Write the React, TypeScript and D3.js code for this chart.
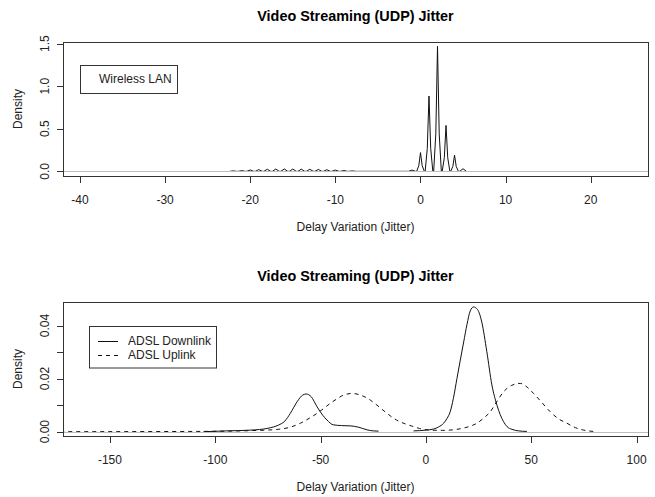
import React, { useEffect, useRef } from 'react';
import * as d3 from 'd3';

const chartTitle = 'Video Streaming (UDP) Jitter';
const xLabel = 'Delay Variation (Jitter)';
const yLabel = 'Density';

// top panel: wireless LAN jitter density, (delay, density)
const wlanDensity: [number, number][] = [
  [-22.4, 0], [-22, 0.005], [-21.6, 0],
  [-21.4, 0], [-21, 0.008], [-20.6, 0],
  [-20.4, 0], [-20, 0.016], [-19.6, 0],
  [-19.4, 0], [-19, 0.02], [-18.6, 0],
  [-18.4, 0], [-18, 0.024], [-17.6, 0],
  [-17.4, 0], [-17, 0.027], [-16.6, 0],
  [-16.4, 0], [-16, 0.028], [-15.6, 0],
  [-15.4, 0], [-15, 0.027], [-14.6, 0],
  [-14.4, 0], [-14, 0.025], [-13.6, 0],
  [-13.4, 0], [-13, 0.024], [-12.6, 0],
  [-12.4, 0], [-12, 0.022], [-11.6, 0],
  [-11.4, 0], [-11, 0.019], [-10.6, 0],
  [-10.4, 0], [-10, 0.015], [-9.6, 0],
  [-9.4, 0], [-9, 0.009], [-8.6, 0],
  [-8.4, 0], [-8, 0.005], [-7.6, 0],
  [-1.4, 0], [-1, 0.015], [-0.6, 0],
  [-0.45, 0], [-0.2, 0.066], [0, 0.22], [0.2, 0.066], [0.45, 0],
  [0.55, 0], [0.8, 0.27], [1, 0.885], [1.2, 0.27], [1.45, 0],
  [1.55, 0], [1.8, 0.44], [2, 1.47], [2.2, 0.44], [2.45, 0],
  [2.55, 0], [2.8, 0.16], [3, 0.54], [3.2, 0.16], [3.45, 0],
  [3.55, 0], [3.8, 0.057], [4, 0.19], [4.2, 0.057], [4.45, 0],
  [4.6, 0], [5, 0.03], [5.4, 0],
];

// bottom panel: ADSL downlink (two pieces) and uplink densities
const downlinkLow: [number, number][] = [
  [-105.6, 0], [-95, 0.0003], [-83, 0.0006], [-75, 0.0013], [-70, 0.0025],
  [-67, 0.004], [-64.4, 0.0069], [-61, 0.0115], [-58.5, 0.0138], [-56.8, 0.0142],
  [-54.5, 0.0132], [-51.7, 0.0094], [-49, 0.0062], [-47, 0.0044], [-44, 0.0026],
  [-40, 0.0023], [-36, 0.0022], [-32, 0.0017], [-28, 0.0007], [-25, 0.0003],
  [-22.5, 0.0002],
];
const downlinkHigh: [number, number][] = [
  [-5.9, 0.0003], [0, 0.0006], [3.6, 0.001], [6, 0.0018], [8.4, 0.0032],
  [10, 0.005], [11.5, 0.0075], [13, 0.0125], [14.7, 0.02], [16.3, 0.027],
  [17.9, 0.0338], [19.5, 0.0405], [21, 0.0455], [22.6, 0.047], [24.5, 0.046],
  [26.5, 0.0413], [28.9, 0.0301], [31.3, 0.0176], [33.7, 0.01], [36.8, 0.0038],
  [38.5, 0.0019], [40.8, 0.0009], [44, 0.0003], [47.9, 0.0001],
];
const uplink: [number, number][] = [
  [-185, 0], [-110, 0.0001], [-95, 0.0002], [-83.4, 0.0004], [-70, 0.0009],
  [-64, 0.0018], [-59.6, 0.0032], [-55.5, 0.005], [-51.7, 0.0069], [-48.5, 0.0088],
  [-45.4, 0.0107], [-42, 0.0125], [-39.1, 0.0138], [-35.1, 0.0144], [-31, 0.0138],
  [-26.4, 0.0119], [-22, 0.0092], [-18, 0.0066], [-14, 0.0044], [-10, 0.003],
  [-7, 0.0022], [-3, 0.0012], [2, 0.0006], [8, 0.0005], [14.7, 0.0009],
  [19, 0.0016], [24.2, 0.0032], [27.5, 0.0052], [30.5, 0.0075], [33.5, 0.0112],
  [36.8, 0.015], [40.5, 0.0174], [44.8, 0.0182], [48, 0.0168], [51.1, 0.0144],
  [55, 0.011], [59, 0.0075], [63, 0.0048], [66.9, 0.0032], [71, 0.0015],
  [74.8, 0.0006], [79.5, 0.0001],
];

const wlanXTicks = [-40, -30, -20, -10, 0, 10, 20];
const wlanYTicks = [0, 0.5, 1, 1.5];
const wlanYTickLabels = ['0.0', '0.5', '1.0', '1.5'];
const adslXTicks = [-150, -100, -50, 0, 50, 100];
const adslYTicks = [0, 0.01, 0.02, 0.03, 0.04];
const adslYTickLabels = ['0.00', '', '0.02', '', '0.04'];

const wlanLegend = ['Wireless LAN'];
const adslLegend = ['ADSL Downlink', 'ADSL Uplink'];

const FONT = '"Liberation Sans", Arial, Helvetica, sans-serif';
const PL = 63;
const PR = 648;

const panels = [
  {
    top: 42, bottom: 176,
    xDomain: [-42.0, 26.73], yDomain: [-0.055, 1.52],
    xTicks: wlanXTicks, yTicks: wlanYTicks, yTickLabels: wlanYTickLabels,
    smooth: false,
    series: [{ points: wlanDensity, dash: null }],
    legend: {
      at: [-40, 1.25], width: 97, height: 28, textOffset: 19, rowY: [14],
      items: wlanLegend.map(t => ({ label: t, dash: undefined as string | null | undefined })),
    },
  },
  {
    top: 302, bottom: 436,
    xDomain: [-172.3, 105.4], yDomain: [-0.00162, 0.04887],
    xTicks: adslXTicks, yTicks: adslYTicks, yTickLabels: adslYTickLabels,
    smooth: true,
    series: [
      { points: downlinkLow, dash: null },
      { points: downlinkHigh, dash: null },
      { points: uplink, dash: '4,4' },
    ],
    legend: {
      at: [-160, 0.04], width: 127, height: 41.5, textOffset: 39, rowY: [15, 29],
      items: [
        { label: adslLegend[0], dash: null },
        { label: adslLegend[1], dash: '4,4' },
      ],
    },
  },
];

const App = () => {
  const chartRef = useRef<SVGSVGElement>(null);

  useEffect(() => {
    const svg = d3.select(chartRef.current);
    svg.selectAll('*').remove();
    svg.append('rect').attr('width', 655).attr('height', 497).attr('fill', '#fff');

    panels.forEach((p, i) => {
      const x = d3.scaleLinear().domain(p.xDomain).range([PL, PR]);
      const y = d3.scaleLinear().domain(p.yDomain).range([p.bottom, p.top]);
      const midX = (PL + PR) / 2;

      const clipId = `plotclip${i}`;
      svg.append('clipPath').attr('id', clipId)
        .append('rect')
        .attr('x', PL).attr('y', p.top)
        .attr('width', PR - PL).attr('height', p.bottom - p.top);

      const plot = svg.append('g').attr('clip-path', `url(#${clipId})`);
      const line = d3.line<[number, number]>()
        .x(d => x(d[0]))
        .y(d => y(d[1]))
        .curve(p.smooth ? d3.curveMonotoneX : d3.curveLinear);

      p.series.forEach(s => {
        plot.append('path')
          .attr('d', line(s.points))
          .attr('fill', 'none')
          .attr('stroke', '#111')
          .attr('stroke-width', 1)
          .attr('stroke-dasharray', s.dash);
      });

      // grey zero line drawn on top of the curves
      const y0 = Math.round(y(0)) + 0.5;
      plot.append('line')
        .attr('x1', PL).attr('x2', PR).attr('y1', y0).attr('y2', y0)
        .attr('stroke', '#bebebe').attr('stroke-width', 1);

      // box
      svg.append('rect')
        .attr('x', PL + 0.5).attr('y', p.top + 0.5)
        .attr('width', PR - PL).attr('height', p.bottom - p.top)
        .attr('fill', 'none').attr('stroke', '#333');

      // x axis
      const xa = svg.append('g');
      p.xTicks.forEach(v => {
        const px = Math.round(x(v)) + 0.5;
        xa.append('line')
          .attr('x1', px).attr('x2', px)
          .attr('y1', p.bottom + 0.5).attr('y2', p.bottom + 7)
          .attr('stroke', '#333');
        xa.append('text')
          .attr('x', x(v)).attr('y', p.bottom + 28)
          .attr('text-anchor', 'middle')
          .style('font-family', FONT).style('font-size', '12px').attr('fill', '#222')
          .text(v < 0 ? `-${Math.abs(v)}` : `${v}`);
      });

      // y axis
      const ya = svg.append('g');
      p.yTicks.forEach((v, k) => {
        const py = Math.round(y(v)) + 0.5;
        ya.append('line')
          .attr('x1', PL - 6).attr('x2', PL + 0.5)
          .attr('y1', py).attr('y2', py)
          .attr('stroke', '#333');
        if (p.yTickLabels[k]) {
          ya.append('text')
            .attr('transform', `translate(49,${y(v)}) rotate(-90)`)
            .attr('text-anchor', 'middle')
            .style('font-family', FONT).style('font-size', '12px').attr('fill', '#222')
            .text(p.yTickLabels[k]);
        }
      });

      // titles
      svg.append('text')
        .attr('x', midX).attr('y', p.top - 21.5)
        .attr('text-anchor', 'middle')
        .style('font-family', FONT).style('font-size', '14.4px').style('font-weight', 'bold')
        .text(chartTitle);

      svg.append('text')
        .attr('x', midX).attr('y', p.bottom + 54.6)
        .attr('text-anchor', 'middle')
        .style('font-family', FONT).style('font-size', '12px').attr('fill', '#222')
        .text(xLabel);

      svg.append('text')
        .attr('transform', `translate(22,${(p.top + p.bottom) / 2}) rotate(-90)`)
        .attr('text-anchor', 'middle')
        .style('font-family', FONT).style('font-size', '12px').attr('fill', '#222')
        .text(yLabel);

      // legend
      const lg = p.legend;
      const lx = Math.round(x(lg.at[0]));
      const ly = Math.round(y(lg.at[1]));
      svg.append('rect')
        .attr('x', lx + 0.5).attr('y', ly + 0.5)
        .attr('width', lg.width).attr('height', lg.height)
        .attr('fill', '#fff').attr('stroke', '#333');
      lg.items.forEach((item, k) => {
        const ry = ly + lg.rowY[k];
        if (item.dash !== undefined) {
          svg.append('line')
            .attr('x1', lx + 9).attr('x2', lx + 29)
            .attr('y1', ry + 0.5).attr('y2', ry + 0.5)
            .attr('stroke', '#111')
            .attr('stroke-dasharray', item.dash);
        }
        svg.append('text')
          .attr('x', lx + lg.textOffset).attr('y', ry + 4.3)
          .style('font-family', FONT).style('font-size', '12px').attr('fill', '#222')
          .text(item.label);
      });
    });
  }, []);

  return (
    <svg
      ref={chartRef}
      width={655}
      height={497}
      style={{ position: 'absolute', left: 0, top: 0, display: 'block' }}
    />
  );
};

export default App;
